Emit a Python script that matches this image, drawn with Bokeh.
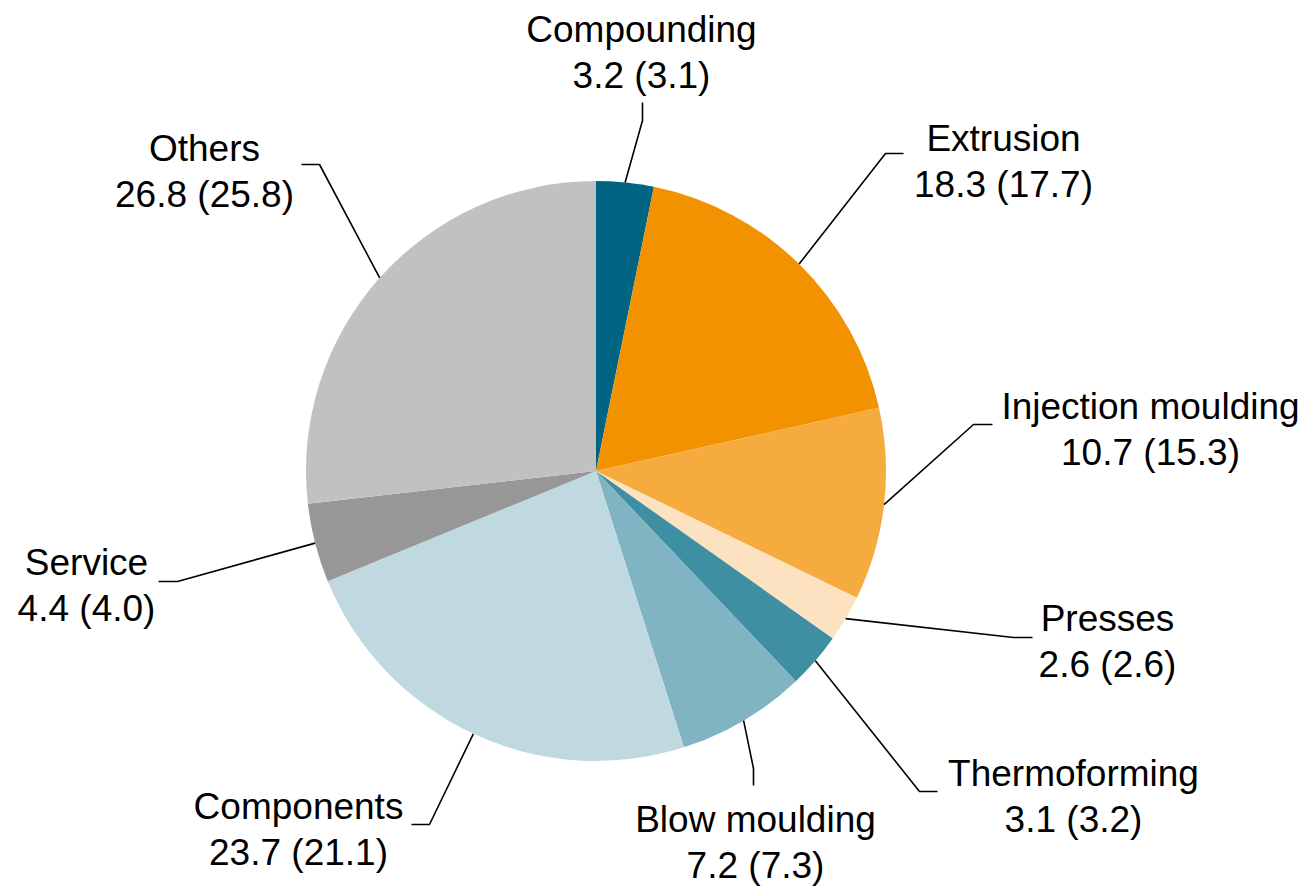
import numpy as np
from bokeh.plotting import figure
from bokeh.models import Range1d, ColumnDataSource
from bokeh.core.properties import value
from bokeh.embed import file_html
from bokeh.resources import INLINE

# ---- data ----
categories = ["Compounding", "Extrusion", "Injection moulding", "Presses",
              "Thermoforming", "Blow moulding", "Components", "Service", "Others"]
share_now = [3.2, 18.3, 10.7, 2.6, 3.1, 7.2, 23.7, 4.4, 26.8]
share_prev = [3.1, 17.7, 15.3, 2.6, 3.2, 7.3, 21.1, 4.0, 25.8]
colors = ["#006482", "#F39200", "#F6AB3F", "#FCE2C0", "#3F8FA2",
          "#80B4C3", "#C0D9E1", "#979797", "#C1C1C1"]

# ---- layout (pixel positions on the page, y downward) ----
H = 888
W_FIG, H_FIG = 1304, 888
CX, CY, R = 595.5, 470.5, 290.0
# label centre x, first-line baseline y
label_pos = [(641, 29), (1003, 138), (1150, 406), (1107, 618), (1073, 773),
             (755, 819), (298, 806), (86, 562), (204, 148)]
LINE_GAP = 46
# leader elbow and end points
elbows = [(642, 120), (885, 153), (973, 424), (1013, 637), (919, 791),
          (753, 768), (429, 824), (177, 581), (319, 164)]
ends = [(642, 102), (903, 153), (992, 424), (1032, 637), (937, 791),
        (753, 785), (411, 824), (158, 581), (301, 164)]

def Y(py):
    return H - py

vals = np.array(share_now, dtype=float)
frac = vals / vals.sum()
cum_end = np.cumsum(frac)
cum_start = cum_end - frac
start_ang = np.pi / 2 - cum_start * 2 * np.pi
end_ang = np.pi / 2 - cum_end * 2 * np.pi
mid = (cum_start + cum_end) / 2 * 2 * np.pi

p = figure(width=W_FIG, height=H_FIG, output_backend="svg", toolbar_location=None,
           x_range=Range1d(0, W_FIG), y_range=Range1d(Y(H_FIG), Y(0)),
           min_border=0, outline_line_color=None, background_fill_color="white",
           border_fill_color="white")
p.axis.visible = False
p.grid.visible = False
p.xaxis.visible = False
p.yaxis.visible = False

src = ColumnDataSource(dict(start=start_ang, end=end_ang, color=colors,
                            x=[CX] * len(vals), y=[Y(CY)] * len(vals)))
p.wedge(x="x", y="y", radius=R, start_angle="start", end_angle="end",
        direction="clock", fill_color="color", line_color=None, source=src)

# leader lines: start at slice mid-angle on the rim
xs, ys = [], []
for i in range(len(vals)):
    sx = CX + R * np.sin(mid[i])
    sy = CY - R * np.cos(mid[i])
    xs.append([sx, elbows[i][0], ends[i][0]])
    ys.append([Y(sy), Y(elbows[i][1]), Y(ends[i][1])])
p.multi_line(xs=xs, ys=ys, line_color="black", line_width=1.6)

font = value("Liberation Sans")
lx = [lp[0] for lp in label_pos]
ly1 = [Y(lp[1]) for lp in label_pos]
ly2 = [Y(lp[1] + LINE_GAP) for lp in label_pos]
txt2 = [f"{a:.1f} ({b:.1f})" for a, b in zip(share_now, share_prev)]
p.text(x=lx, y=ly1, text=categories, text_font=font, text_font_size="37px",
       text_align="center", text_baseline="alphabetic", text_color="black")
p.text(x=lx, y=ly2, text=txt2, text_font=font, text_font_size="37px",
       text_align="center", text_baseline="alphabetic", text_color="black")

open("out.html", "w").write(file_html(p, INLINE))
